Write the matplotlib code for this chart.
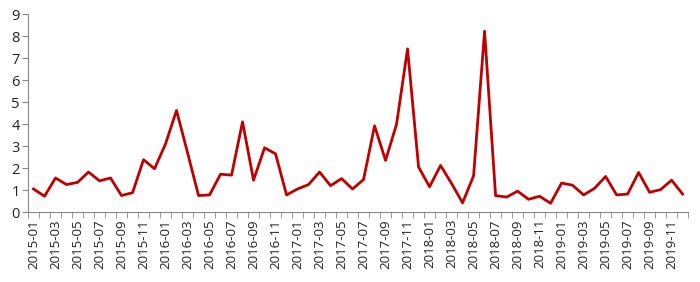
import numpy as np
import matplotlib.pyplot as plt

plt.rcParams['font.family'] = ['Open Sans', 'DejaVu Sans']

# monthly values 2015-01 .. 2019-12
months = [f"{y}-{m:02d}" for y in range(2015, 2020) for m in range(1, 13)]
values = [
    1.05, 0.72, 1.55, 1.25, 1.35, 1.82, 1.42, 1.55, 0.75, 0.88, 2.38, 1.97,
    3.10, 4.62, 2.70, 0.75, 0.78, 1.72, 1.68, 4.10, 1.45, 2.92, 2.65, 0.78,
    1.05, 1.25, 1.82, 1.20, 1.52, 1.05, 1.48, 3.92, 2.35, 4.00, 7.42, 2.05,
    1.15, 2.12, 1.30, 0.42, 1.65, 8.22, 0.75, 0.68, 0.95, 0.58, 0.72, 0.40,
    1.32, 1.22, 0.78, 1.08, 1.62, 0.78, 0.82, 1.80, 0.90, 1.02, 1.45, 0.82,
]

fig = plt.figure(figsize=(7, 2.82), dpi=100)
ax = fig.add_axes([0.04, 0.248, 0.943, 0.702])

x = np.arange(len(values))
ax.plot(x, values, color="#C00000", linewidth=2.0)

ax.set_xlim(-0.5, len(values) - 0.5)
ax.set_ylim(0, 9)
ax.set_yticks(range(0, 10))

ax.set_xticks(x[::2])
ax.set_xticklabels(months[::2], rotation=90, fontsize=9.5, color="#222222")
ax.set_xticks(np.arange(-0.5, len(values)), minor=True)
ax.tick_params(axis="x", which="major", length=0, pad=5)
ax.tick_params(axis="x", which="minor", length=4, color="#888888")
ax.tick_params(axis="y", length=4, color="#888888", labelsize=10.5, labelcolor="#222222", pad=2)

for s in ["top", "right"]:
    ax.spines[s].set_visible(False)
for s in ["left", "bottom"]:
    ax.spines[s].set_color("#888888")

fig.savefig("out.png", dpi=100)
